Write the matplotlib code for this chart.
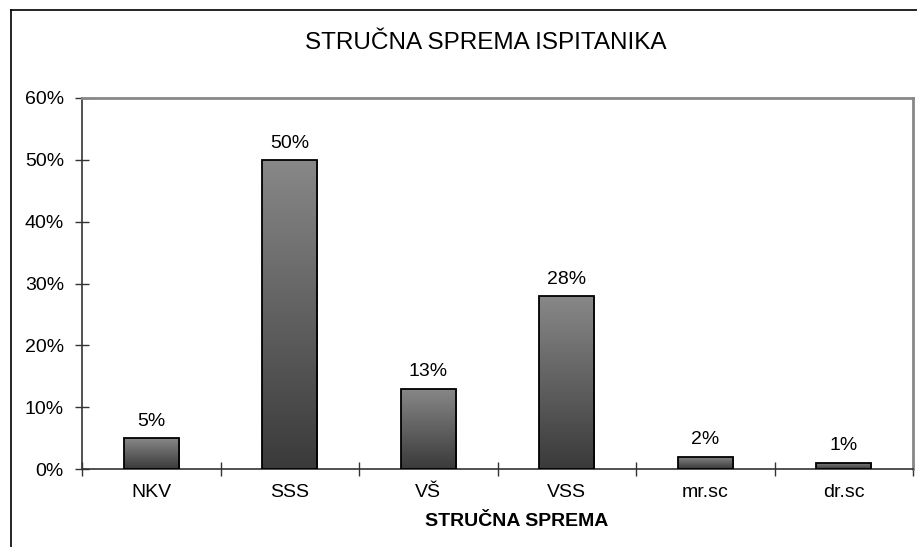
import matplotlib
matplotlib.use("Agg")
import matplotlib.pyplot as plt
import numpy as np
from matplotlib.patches import Rectangle
from matplotlib.lines import Line2D
from matplotlib.colors import LinearSegmentedColormap

plt.rcParams['font.family'] = ['Liberation Sans', 'DejaVu Sans']

categories = ['NKV', 'SSS', 'VŠ', 'VSS', 'mr.sc', 'dr.sc']
values = [5, 50, 13, 28, 2, 1]
y_ticks = [0, 10, 20, 30, 40, 50, 60]
title = 'STRUČNA SPREMA ISPITANIKA'
xlabel = 'STRUČNA SPREMA'

W, H = 917, 547
fig = plt.figure(figsize=(W / 100, H / 100), dpi=100)
ax = fig.add_axes([82 / W, 1 - 469 / H, (913 - 82) / W, (469 - 98) / H])

fs = 14
cmap = LinearSegmentedColormap.from_list('g', ['#3a3a3a', '#888888'])
x = np.arange(len(categories))
bars = ax.bar(x, values, width=0.4, color='none', edgecolor='black', linewidth=1.3, zorder=3)
grad = np.linspace(0, 1, 256).reshape(-1, 1)
for b in bars:
    x0, y0 = b.get_x(), b.get_y()
    w, h = b.get_width(), b.get_height()
    im = ax.imshow(grad, cmap=cmap, origin='lower', aspect='auto',
                   extent=(x0, x0 + w, y0, y0 + h), zorder=2, interpolation='bilinear')
    clip = Rectangle((x0, y0), w, h, transform=ax.transData)
    im.set_clip_path(clip)
    ax.annotate(f'{b.get_height():g}%', (x0 + w / 2, y0 + h), xytext=(0, 6),
                textcoords='offset points', ha='center', va='bottom', fontsize=fs, color='black')

ax.set_xlim(-0.5, len(categories) - 0.5)
ax.set_ylim(0, 60)
ax.set_yticks(y_ticks)
ax.set_yticklabels([f'{t}%' for t in y_ticks])
ax.set_xticks(x)
ax.set_xticklabels(categories)
ax.set_xticks(np.arange(len(categories) + 1) - 0.5, minor=True)
ax.tick_params(axis='x', which='major', length=0, pad=11, labelsize=fs)
ax.tick_params(axis='x', which='minor', direction='inout', length=10, width=1, color='#333333')
ax.tick_params(axis='y', direction='inout', length=10, width=1, color='#333333', pad=8, labelsize=fs)

for s in ['left', 'bottom']:
    ax.spines[s].set_color('#333333')
    ax.spines[s].set_linewidth(1.2)
for s in ['top', 'right']:
    ax.spines[s].set_color('#888888')
    ax.spines[s].set_linewidth(2)

fig.text(486 / W, 1 - 43 / H, title, ha='center', va='center', fontsize=17.5)
fig.text(517 / W, 1 - 521 / H, xlabel, ha='center', va='center', fontsize=14, fontweight='bold')

# figure border (left and top visible)
fig.add_artist(Line2D([10.5 / W, 10.5 / W], [0, 1 - 10 / H], transform=fig.transFigure, color='black', linewidth=1.2))
fig.add_artist(Line2D([10.5 / W, 1], [1 - 10 / H, 1 - 10 / H], transform=fig.transFigure, color='black', linewidth=1.2))

fig.savefig('out.png', dpi=100)
